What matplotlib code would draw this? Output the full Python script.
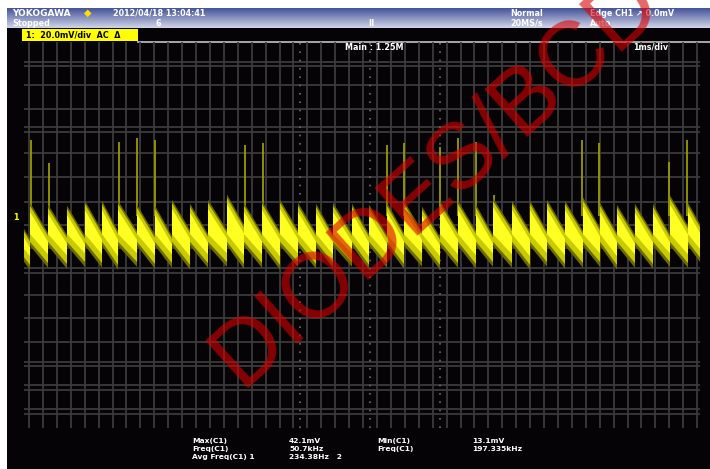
import numpy as np
import matplotlib
matplotlib.use("Agg")
import matplotlib.pyplot as plt
from matplotlib.patches import Rectangle, Polygon

# ---------------- data (screen divisions: 10 horizontal, 8 vertical) ----------------
# rising-edge times of each sawtooth cycle (div)
edge_t = [-0.180, 0.089, 0.355, 0.636, 0.902, 1.154, 1.391, 1.672, 1.938, 2.189,
          2.456, 2.722, 3.003, 3.254, 3.521, 3.787, 4.053, 4.320, 4.571, 4.852,
          5.104, 5.370, 5.621, 5.888, 6.154, 6.420, 6.686, 6.938, 7.219, 7.485,
          7.737, 8.003, 8.269, 8.521, 8.772, 9.038, 9.305, 9.556, 9.822, 10.074]
# top of the trace right after each rising edge (div)
peak_v = [0.50, 0.62, 0.58, 0.56, 0.66, 0.66, 0.66, 0.58, 0.56, 0.68,
          0.60, 0.68, 0.79, 0.62, 0.66, 0.68, 0.62, 0.60, 0.62, 0.60,
          0.58, 0.62, 0.66, 0.54, 0.66, 0.66, 0.58, 0.72, 0.66, 0.66,
          0.68, 0.66, 0.73, 0.62, 0.58, 0.60, 0.60, 0.77, 0.62, 0.66]
# bottom of the trace just before the next edge (div)
trough_v = [-0.62, -0.58, -0.60, -0.56, -0.58, -0.62, -0.56, -0.60, -0.58, -0.62,
            -0.58, -0.56, -0.60, -0.58, -0.62, -0.56, -0.60, -0.58, -0.56, -0.62,
            -0.58, -0.60, -0.56, -0.62, -0.58, -0.60, -0.56, -0.58, -0.62, -0.56,
            -0.60, -0.58, -0.56, -0.62, -0.58, -0.60, -0.56, -0.58, -0.60, -0.58]
# narrow switching spikes above the trace
spike_t = [0.104, 0.370, 1.405, 1.672, 1.938, 3.269, 3.536, 5.370, 5.621,
           6.154, 6.420, 6.686, 6.953, 8.254, 8.506, 9.541, 9.808]
spike_top = [1.97, 1.49, 1.93, 2.01, 1.97, 1.87, 1.91, 1.87, 1.91,
             1.82, 2.01, 1.93, 0.83, 1.97, 1.91, 1.51, 1.97]

# ---------------- figure ----------------
W, H = 710, 469
fig = plt.figure(figsize=(W / 100, H / 100), dpi=100)
fig.patch.set_facecolor("white")

# background / frame layer in screen pixels
bg = fig.add_axes([0, 0, 1, 1], zorder=0)
bg.set_xlim(0, W)
bg.set_ylim(H, 0)
bg.axis("off")
bg.add_patch(Rectangle((7, 8), W - 7, H - 8, color="#060306", lw=0))
grad = np.linspace(0, 1, 40)[:, None]
top_c = np.array([0.27, 0.33, 0.60])
bot_c = np.array([0.82, 0.83, 0.91])
grad_img = top_c[None, None, :] * (1 - grad[:, :, None]) + bot_c[None, None, :] * grad[:, :, None]
bg.imshow(np.repeat(grad_img, 4, axis=1), extent=[7, W, 28, 8], aspect="auto", zorder=1)
bg.add_patch(Rectangle((22, 29.5), 116, 11.5, color="#ffff00", lw=0, zorder=2))
bg.plot([138, W], [42, 42], color="#a8a8a8", lw=1.4, zorder=2)

# scope screen axes
L, R, T, B = 24, 700, 42, 428
ax = fig.add_axes([L / W, 1 - B / H, (R - L) / W, (B - T) / H], zorder=1)
ax.set_facecolor("none")
ax.set_xlim(0, 10)
ax.set_ylim(-4, 4)
ax.axis("off")

def px_x(p):
    return (p - L) / (R - L) * 10

def px_y(p):
    return 4 - (p - T) / (B - T) * 8

grid_c = "#3b3b3b"
for k in range(49):
    ax.axvline(px_x(29 + 13.92 * k), color=grid_c, lw=1.3, zorder=1)
for p in [62, 66, 85, 109, 127, 132, 153, 177, 202, 225, 248, 268, 273,
          295, 318, 342, 362, 366, 385, 390, 409, 414]:
    ax.axhline(px_y(p), color=grid_c, lw=1.3, zorder=1)
for p in [300, 370, 440]:
    ax.axvline(px_x(p), color="#6e6e6e", lw=1.2, ls=(0, (1, 4)), zorder=1.5)
ax.axvline(px_x(23.5), color="#8a8a8a", lw=1.4, ls=(0, (1.5, 2)), zorder=1.5)

# sawtooth trace, one slanted band per cycle
for i in range(len(edge_t) - 1):
    t0, t1 = edge_t[i], edge_t[i + 1]
    pk, tr = peak_v[i], trough_v[i]
    halo = [(t0, pk + 0.05), (t1, pk - 0.58), (t1, tr - 0.10), (t0, -0.22)]
    mid = [(t0, pk - 0.02), (t1, pk - 0.64), (t1, tr), (t0, -0.14)]
    core = [(t0, pk - 0.14), (t1, pk - 0.76), (t1, tr + 0.18), (t0, 0.02)]
    ax.add_patch(Polygon(halo, closed=True, color="#6c6c00", lw=0, zorder=3))
    ax.add_patch(Polygon(mid, closed=True, color="#caca00", lw=0, zorder=3.1))
    ax.add_patch(Polygon(core, closed=True, color="#ffff22", lw=0, zorder=3.2))

ax.vlines(spike_t, 0.4, spike_top, color="#9a9a00", lw=1.3, zorder=2.9)

# text layer in screen pixels
fg = fig.add_axes([0, 0, 1, 1], zorder=2)
fg.set_facecolor("none")
fg.set_xlim(0, W)
fg.set_ylim(H, 0)
fg.axis("off")

def txt(x, y, s, c="white", size=5.8, **kw):
    fg.text(x, y, s, color=c, fontsize=size, va="center", ha=kw.pop("ha", "left"),
            family="DejaVu Sans", **kw)

txt(12, 13, "YOKOGAWA", size=6.5, weight="bold")
txt(84, 13, "\u25c6", c="#ffe000", size=7)
txt(113, 13, "2012/04/18 13:04:41", weight="bold")
txt(12, 23, "Stopped", weight="bold")
txt(156, 23, "6", weight="bold")
txt(368, 23, "\u2161", weight="bold")
txt(510, 13, "Normal", weight="bold")
txt(510, 23, "20MS/s", weight="bold")
txt(590, 13, "Edge CH1 \u2197 0.0mV", weight="bold")
txt(590, 23, "Auto", weight="bold")
txt(26, 35.5, "1:  20.0mV/div  AC  \u0394", c="black", weight="bold")
txt(345, 47, "Main : 1.25M", weight="bold")
txt(668, 47, "1ms/div", ha="right", weight="bold")
txt(13, 218, "1", c="#ffff00", weight="bold")

meas = [(192, ["Max(C1)", "Freq(C1)", "Avg Freq(C1) 1"]),
        (289, ["42.1mV", "50.7kHz", "234.38Hz   2"]),
        (377, ["Min(C1)", "Freq(C1)"]),
        (472, ["13.1mV", "197.335kHz"])]
for x, lines in meas:
    for j, s in enumerate(lines):
        txt(x, 441 + 8 * j, s, size=5.4, weight="bold")

# red diagonal watermark
fg.text(437, 180, "DIODES/BCD", color=(0.85, 0.0, 0.0), alpha=0.6, fontsize=66,
        family="Liberation Sans", rotation=42, ha="center", va="center",
        rotation_mode="anchor", zorder=10)

fig.savefig("out.png", dpi=100, facecolor=fig.get_facecolor())
